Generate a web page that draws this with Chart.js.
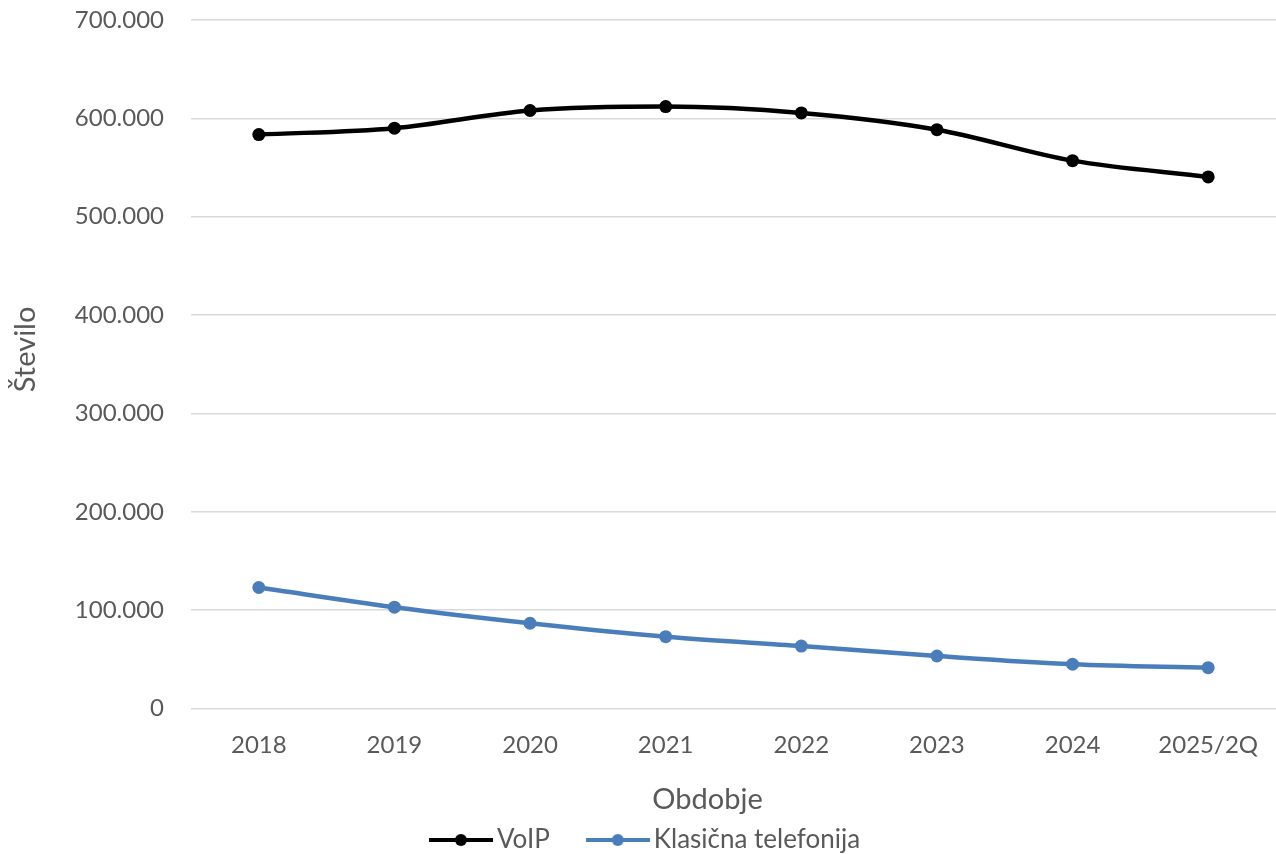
<!DOCTYPE html>
<html>
<head>
<meta charset="utf-8">
<script src="https://cdn.jsdelivr.net/npm/chart.js@4/dist/chart.umd.min.js"></script>
<style>
  html, body { margin: 0; padding: 0; background: #ffffff; }
  #wrap { width: 1276px; height: 854px; position: relative; }
</style>
</head>
<body>
<div id="wrap"><canvas id="c" width="1276" height="854"></canvas></div>
<script>
// Periods and subscriber counts
const periods = ['2018', '2019', '2020', '2021', '2022', '2023', '2024', '2025/2Q'];
const voip = [583500, 590000, 608000, 612000, 605500, 588500, 557000, 540500];
const klasicna = [123000, 103000, 86700, 73000, 63500, 53400, 45000, 41500];
const yTicks = [0, 100000, 200000, 300000, 400000, 500000, 600000, 700000];

const FONT = 'Lato, "Open Sans", sans-serif';
const TEXT = '#595959';
const BLUE = '#4A7EBB';

// Legend marker: short line with a dot in the middle
function legendMarker(color) {
  const c = document.createElement('canvas');
  c.width = 64; c.height = 14;
  const g = c.getContext('2d');
  g.strokeStyle = color; g.lineWidth = 4;
  g.beginPath(); g.moveTo(0, 7); g.lineTo(64, 7); g.stroke();
  g.fillStyle = color;
  g.beginPath(); g.arc(32, 7, 6, 0, Math.PI * 2); g.fill();
  return c;
}

function fmt(v) {
  return String(v).replace(/\B(?=(\d{3})+(?!\d))/g, '.');
}

new Chart(document.getElementById('c'), {
  type: 'line',
  data: {
    labels: periods,
    datasets: [
      {
        label: 'VoIP',
        data: voip,
        borderColor: '#000000',
        backgroundColor: '#000000',
        borderWidth: 4.5,
        pointRadius: 6.5,
        pointHoverRadius: 6.5,
        pointBorderWidth: 0,
        cubicInterpolationMode: 'monotone',
        pointStyle: 'circle'
      },
      {
        label: 'Klasična telefonija',
        data: klasicna,
        borderColor: BLUE,
        backgroundColor: BLUE,
        borderWidth: 4.5,
        pointRadius: 6.5,
        pointHoverRadius: 6.5,
        pointBorderWidth: 0,
        cubicInterpolationMode: 'monotone',
        pointStyle: 'circle'
      }
    ]
  },
  options: {
    responsive: false,
    animation: false,
    layout: { autoPadding: false, padding: { top: 20, right: 0, left: 22, bottom: -9 } },
    plugins: {
      tooltip: { enabled: false },
      legend: {
        position: 'bottom',
        labels: {
          font: { family: FONT, size: 26 },
          color: TEXT,
          usePointStyle: true,
          pointStyleWidth: 46,
          boxHeight: 14,
          padding: 45,
          generateLabels(chart) {
            return chart.data.datasets.map((ds, i) => ({
              text: ds.label,
              fillStyle: ds.borderColor,
              strokeStyle: ds.borderColor,
              lineWidth: 0,
              pointStyle: legendMarker(ds.borderColor),
              hidden: false,
              datasetIndex: i,
              fontColor: TEXT
            }));
          }
        }
      }
    },
    scales: {
      x: {
        offset: true,
        grid: { display: false, drawTicks: false },
        border: { display: false },
        ticks: {
          font: { family: FONT, size: 24 },
          color: TEXT,
          padding: 22,
          maxRotation: 0,
          autoSkip: false
        },
        title: {
          display: true,
          text: 'Obdobje       ',
          font: { family: FONT, size: 29 },
          color: TEXT,
          padding: { top: 0, bottom: -35 }
        },
        afterFit(scale) {
          scale.height = 73.5;
          scale.paddingLeft = 0;
          scale.paddingRight = 0;
        }
      },
      y: {
        min: 0,
        max: 700000,
        afterBuildTicks(scale) { scale.ticks = yTicks.map(v => ({ value: v })); },
        grid: { color: '#d9d9d9', lineWidth: 1.5, drawTicks: false },
        border: { display: false },
        ticks: {
          font: { family: FONT, size: 24 },
          color: TEXT,
          padding: 27,
          callback: v => fmt(v)
        },
        title: {
          display: true,
          text: '    Število',
          font: { family: FONT, size: 29 },
          color: TEXT,
          padding: { top: -14, bottom: 0 }
        },
        afterFit(scale) {
          scale.width = 169;
          scale.paddingTop = 0;
          scale.paddingBottom = 0;
        }
      }
    }
  }
});
</script>
</body>
</html>
